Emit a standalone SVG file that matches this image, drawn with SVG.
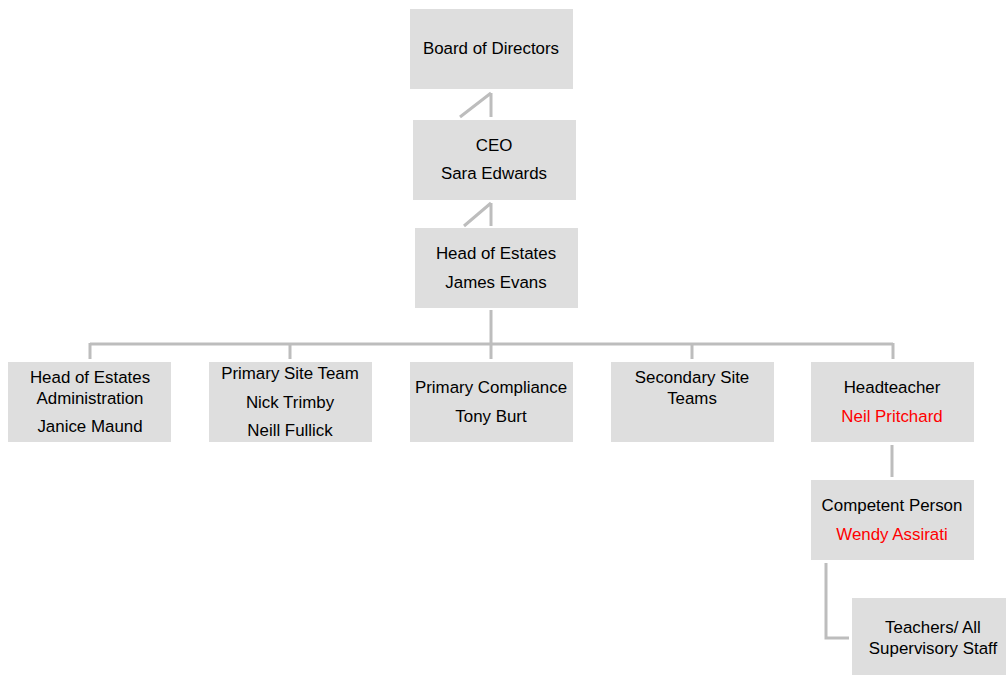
<svg xmlns="http://www.w3.org/2000/svg" width="1006" height="675" viewBox="0 0 1006 675">
<style>
.box{fill:#dedede}
.t{font-family:"Liberation Sans",Arial,sans-serif;font-size:16.9px;fill:#000;text-anchor:middle}
.r{fill:#ff0000}
.c{stroke:#bdbdbd;stroke-width:3;fill:none}
</style>
<rect width="1006" height="675" fill="#fff"/>
<g id="connectors">
<path class="c" d="M491,93 V117 M491,93 L460,117"/>
<path class="c" d="M491,203 V226 M491,203 L464,226"/>
<path class="c" d="M491,310 V344 M90,344 H893 M90,343 V359 M290,343 V359 M491,343 V359 M692,343 V359 M893,343 V359"/>
<path class="c" d="M892,445 V477"/>
<path class="c" d="M826,563 V638 H849"/>
</g>
<g id="board"><rect class="box" x="410" y="9" width="163" height="80"/><text class="t" x="491" y="54">Board of Directors</text></g>
<g id="ceo"><rect class="box" x="413" y="120" width="163" height="80"/><text class="t" x="494" y="151">CEO</text><text class="t" x="494" y="179">Sara Edwards</text></g>
<g id="head-estates"><rect class="box" x="415" y="228" width="163" height="80"/><text class="t" x="496" y="259">Head of Estates</text><text class="t" x="496" y="288">James Evans</text></g>
<g id="admin"><rect class="box" x="8" y="362" width="163" height="80"/><text class="t" x="90" y="383">Head of Estates</text><text class="t" x="90" y="404">Administration</text><text class="t" x="90" y="432">Janice Maund</text></g>
<g id="primary-site"><rect class="box" x="209" y="362" width="163" height="80"/><text class="t" x="290" y="379">Primary Site Team</text><text class="t" x="290" y="408">Nick Trimby</text><text class="t" x="290" y="436">Neill Fullick</text></g>
<g id="primary-compliance"><rect class="box" x="410" y="362" width="163" height="80"/><text class="t" x="491" y="393">Primary Compliance</text><text class="t" x="491" y="422">Tony Burt</text></g>
<g id="secondary-site"><rect class="box" x="611" y="362" width="163" height="80"/><text class="t" x="692" y="383">Secondary Site</text><text class="t" x="692" y="404">Teams</text></g>
<g id="headteacher"><rect class="box" x="811" y="362" width="163" height="80"/><text class="t" x="892" y="393">Headteacher</text><text class="t r" x="892" y="422">Neil Pritchard</text></g>
<g id="competent"><rect class="box" x="811" y="480" width="163" height="80"/><text class="t" x="892" y="511">Competent Person</text><text class="t r" x="892" y="540">Wendy Assirati</text></g>
<g id="teachers"><rect class="box" x="852" y="598" width="163" height="80"/><text class="t" x="933" y="633">Teachers/ All</text><text class="t" x="933" y="654">Supervisory Staff</text></g>
</svg>
